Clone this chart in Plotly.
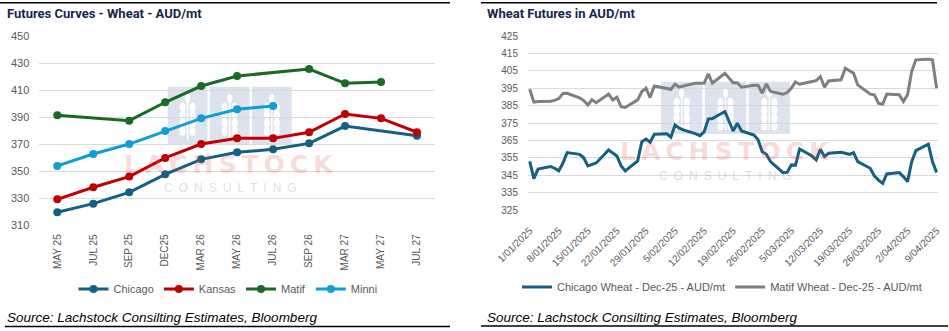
import plotly.graph_objects as go

W, H = 949, 331


def px(x):
    return x / W


def py(y):
    return 1 - y / H


# ---------------- Left chart data ----------------
contracts = ["MAY 25", "JUL 25", "SEP 25", "DEC25", "MAR 26", "MAY 26",
             "JUL 26", "SEP 26", "MAR 27", "MAY 27", "JUL 27"]
chicago_curve = [319.6, 326.0, 334.4, 347.7, 358.8, 364.0, 366.2, 370.6, 383.4, None, 376.3]
kansas_curve = [329.2, 338.1, 346.0, 359.8, 370.1, 374.3, 374.3, 378.8, 392.3, 389.1, 378.8]
matif_curve = [391.4, None, 387.4, 401.0, 413.0, 420.4, None, 425.6, 415.0, 416.0, None]
minni_curve = [353.9, 362.7, 370.1, 379.7, 389.1, 395.8, 398.3, None, None, None, None]
left_ticks = [310, 330, 350, 370, 390, 410, 430, 450]

# ---------------- Right chart data ----------------
dates = [
    "2025-01-01", "2025-01-02", "2025-01-03",
    "2025-01-06", "2025-01-07", "2025-01-08", "2025-01-09", "2025-01-10",
    "2025-01-13", "2025-01-14", "2025-01-15", "2025-01-16", "2025-01-17",
    "2025-01-20", "2025-01-21", "2025-01-22", "2025-01-23", "2025-01-24",
    "2025-01-27", "2025-01-28", "2025-01-29", "2025-01-30", "2025-01-31",
    "2025-02-03", "2025-02-04", "2025-02-05", "2025-02-06", "2025-02-07",
    "2025-02-10", "2025-02-11", "2025-02-12", "2025-02-13", "2025-02-14",
    "2025-02-17", "2025-02-18", "2025-02-19", "2025-02-20", "2025-02-21",
    "2025-02-24", "2025-02-25", "2025-02-26", "2025-02-27", "2025-02-28",
    "2025-03-03", "2025-03-04", "2025-03-05", "2025-03-06", "2025-03-07",
    "2025-03-10", "2025-03-11", "2025-03-12", "2025-03-13", "2025-03-14",
    "2025-03-17", "2025-03-18", "2025-03-19", "2025-03-20", "2025-03-21",
    "2025-03-24", "2025-03-25", "2025-03-26", "2025-03-27", "2025-03-28",
    "2025-03-31", "2025-04-01", "2025-04-02", "2025-04-03", "2025-04-04",
    "2025-04-07", "2025-04-08", "2025-04-09",
]
chicago_dec25 = [
    353.0, 343.0, 348.5,
    350.0, 349.0, 347.5, 352.0, 358.0,
    357.0, 355.0, 350.3, 351.0, 352.0,
    359.5, 357.8, 356.0, 350.5, 347.5,
    353.2, 364.3, 365.8, 364.0, 368.5,
    368.8, 366.8, 373.9, 372.0, 371.0,
    368.8, 367.7, 369.9, 377.3, 377.6,
    381.6, 376.0, 370.4, 374.9, 370.4,
    368.1, 365.3, 358.5, 357.0, 352.8,
    346.5, 346.7, 350.9, 350.7, 360.1,
    356.0, 353.8, 359.9, 355.7, 357.6,
    358.2, 357.6, 357.0, 358.0, 352.8,
    349.0, 344.6, 342.2, 340.3, 345.7,
    346.5, 344.2, 341.3, 352.8, 359.1,
    362.8, 352.8, 346.5,
]
matif_dec25 = [
    394.4, 387.0, 387.3,
    387.5, 388.0, 389.0, 392.0, 392.1,
    389.5, 387.9, 385.4, 388.3, 386.7,
    391.6, 388.3, 389.8, 384.4, 383.9,
    388.3, 393.1, 395.0, 389.6, 396.3,
    394.8, 394.4, 397.3, 395.6, 396.3,
    397.9, 397.9, 397.9, 403.2, 397.9,
    403.6, 400.8, 398.2, 398.2, 395.6,
    396.7, 396.7, 392.1, 397.5, 393.1,
    391.6, 392.5, 395.0, 398.6, 397.3,
    398.8, 399.4, 401.7, 395.6, 399.2,
    399.8, 406.5, 405.0, 403.6, 396.9,
    391.6, 391.2, 386.4, 385.8, 391.6,
    391.2, 387.3, 391.2, 404.6, 411.3,
    411.7, 411.3, 395.0,
]
right_date_ticks = ["2025-01-01", "2025-01-08", "2025-01-15", "2025-01-22", "2025-01-29",
                    "2025-02-05", "2025-02-12", "2025-02-19", "2025-02-26", "2025-03-05",
                    "2025-03-12", "2025-03-19", "2025-03-26", "2025-04-02", "2025-04-09"]
right_ticks = [325, 335, 345, 355, 365, 375, 385, 395, 405, 415, 425]

# ---------------- Colours ----------------
C_CHI = "#156082"
C_KAN = "#C00000"
C_MAT = "#196B24"
C_MIN = "#0F9ED5"
C_GREY = "#7F7F7F"
GRID = "#D9D9D9"
TXT = "#595959"
TITLE = "#14284B"

fig = go.Figure()

for name, vals, col in [("Chicago", chicago_curve, C_CHI), ("Kansas", kansas_curve, C_KAN),
                        ("Matif", matif_curve, C_MAT), ("Minni", minni_curve, C_MIN)]:
    fig.add_trace(go.Scatter(x=contracts, y=vals, name=name, mode="lines+markers",
                             connectgaps=True, line=dict(color=col, width=3),
                             marker=dict(color=col, size=8), xaxis="x", yaxis="y",
                             legend="legend"))

fig.add_trace(go.Scatter(x=dates, y=chicago_dec25, name="Chicago Wheat - Dec-25 - AUD/mt",
                         mode="lines", line=dict(color=C_CHI, width=3),
                         xaxis="x2", yaxis="y2", legend="legend2"))
fig.add_trace(go.Scatter(x=dates, y=matif_dec25, name="Matif Wheat - Dec-25 - AUD/mt",
                         mode="lines", line=dict(color=C_GREY, width=3),
                         xaxis="x2", yaxis="y2", legend="legend2"))

shapes = []
annotations = []

# Panel borders
for (x0, x1, y) in [(0, 450, 2.7), (5, 450, 326.5), (481, 937, 2.7), (481, 948, 326)]:
    shapes.append(dict(type="line", xref="paper", yref="paper", x0=px(x0), x1=px(x1),
                       y0=py(y), y1=py(y), line=dict(color="black", width=1.5)))


def watermark(bx0, bx1, by0, by1, lcx, lcy, ccx, ccy):
    gap = 2.5
    bw = (bx1 - bx0 - 2 * gap) / 3
    for i in range(3):
        x0 = bx0 + i * (bw + gap)
        x1 = x0 + bw
        shapes.append(dict(type="rect", xref="paper", yref="paper", layer="below",
                           x0=px(x0), x1=px(x1), y0=py(by1), y1=py(by0),
                           fillcolor="#DDE3EE", line=dict(width=0)))
        cx = (x0 + x1) / 2
        top = by0 + 7
        shapes.append(dict(type="line", xref="paper", yref="paper", layer="below",
                           x0=px(cx), x1=px(cx), y0=py(top + 8), y1=py(by1 - 4),
                           line=dict(color="white", width=1.5)))
        shapes.append(dict(type="circle", xref="paper", yref="paper", layer="below",
                           x0=px(cx - 2.5), x1=px(cx + 2.5), y0=py(top + 9), y1=py(top),
                           fillcolor="white", line=dict(width=0)))
        for k in range(4):
            yk = top + 9 + k * 8
            for sgn in (-1, 1):
                kx = cx + sgn * 5
                shapes.append(dict(type="circle", xref="paper", yref="paper", layer="below",
                                   x0=px(kx - 3), x1=px(kx + 3), y0=py(yk + 9), y1=py(yk),
                                   fillcolor="white", line=dict(width=0)))
    annotations.append(dict(xref="paper", yref="paper", x=px(lcx), y=py(lcy), showarrow=False,
                            text="<b>L\u2009A\u2009C\u2009H\u2009S\u2009T\u2009O\u2009C\u2009K</b>",
                            font=dict(family="DejaVu Sans", size=25, color="rgba(220,70,70,0.2)"),
                            xanchor="center", yanchor="middle"))
    annotations.append(dict(xref="paper", yref="paper", x=px(ccx), y=py(ccy), showarrow=False,
                            text="\u2002".join("CONSULTING"),
                            font=dict(family="Liberation Sans", size=12,
                                      color="rgba(120,145,185,0.3)"),
                            xanchor="center", yanchor="middle"))


watermark(167.7, 291.7, 86.7, 144, 228.5, 164, 230, 188)
watermark(661, 790, 81.7, 134, 725, 152, 725.5, 176)

# Titles
annotations.append(dict(xref="paper", yref="paper", x=px(5), y=py(14), showarrow=False,
                        text="<b>Futures Curves - Wheat - AUD/mt</b>", xanchor="left",
                        yanchor="middle", font=dict(family="Roboto", size=13, color=TITLE)))
annotations.append(dict(xref="paper", yref="paper", x=px(485), y=py(14), showarrow=False,
                        text="<b>Wheat Futures in AUD/mt</b>", xanchor="left",
                        yanchor="middle", font=dict(family="Roboto", size=13, color=TITLE)))
# Sources
for sx in (5, 485):
    annotations.append(dict(xref="paper", yref="paper", x=px(sx), y=py(317), showarrow=False,
                            text="<i>Source: Lachstock Consilting Estimates, Bloomberg</i>",
                            xanchor="left", yanchor="middle",
                            font=dict(family="Liberation Sans", size=13.5, color="black")))

fig.update_layout(
    template="none",
    width=W, height=H,
    margin=dict(l=0, r=0, t=0, b=0, pad=0),
    paper_bgcolor="white", plot_bgcolor="white",
    font=dict(family="Liberation Sans", color=TXT),
    shapes=shapes, annotations=annotations,
    xaxis=dict(domain=[px(39.3), px(435)], type="category", range=[-0.5, 10.5],
               tickangle=-90, tickfont=dict(size=10, color=TXT), showgrid=False,
               zeroline=False, showline=False, ticks="", ticklabelstandoff=6,
               anchor="y", automargin=False),
    yaxis=dict(domain=[py(225.3), py(36)], range=[310, 450], tickvals=left_ticks,
               showgrid=True, gridcolor=GRID, gridwidth=1, zeroline=False, showline=False,
               ticks="", tickfont=dict(size=11, color=TXT), ticklabelstandoff=9, anchor="x",
               automargin=False),
    xaxis2=dict(domain=[px(528), px(938)], type="date",
                range=["2024-12-31 14:00", "2025-04-09 08:00"],
                tickvals=right_date_ticks, tickformat="%-d/%m/%Y", tickangle=-45,
                tickfont=dict(size=10, color=TXT), showgrid=False, zeroline=False,
                showline=False, ticks="", ticklabelstandoff=12, anchor="y2",
                automargin=False),
    yaxis2=dict(domain=[py(210), py(36)], range=[325, 425], tickvals=right_ticks,
                showgrid=True, gridcolor=GRID, gridwidth=1, zeroline=False, showline=False,
                ticks="", tickfont=dict(size=10, color=TXT), ticklabelstandoff=9, anchor="x2",
                automargin=False),
    legend=dict(orientation="h", x=px(228), y=py(289), xanchor="center", yanchor="middle",
                font=dict(size=11, color=TXT), itemwidth=30, bgcolor="rgba(0,0,0,0)",
                tracegroupgap=0),
    legend2=dict(orientation="h", x=px(722), y=py(287), xanchor="center", yanchor="middle",
                 font=dict(size=11, color=TXT), itemwidth=30, bgcolor="rgba(0,0,0,0)"),
    showlegend=True,
)

fig.write_html("out.html")
